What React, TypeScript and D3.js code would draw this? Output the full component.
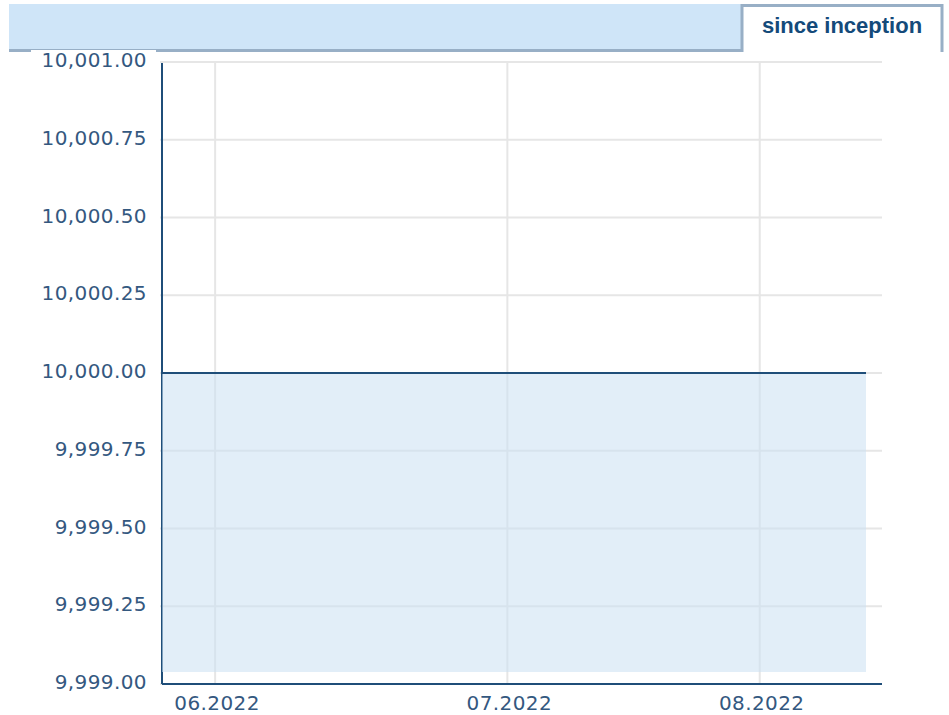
import { useRef, useEffect } from 'react';
import * as d3 from 'd3';

// trading days shown on the chart (MM-DD, 2022)
const dates: string[] = [
    '05-26', '05-27', '05-30', '05-31',
    '06-01', '06-02', '06-03', '06-06', '06-07', '06-08', '06-09', '06-10',
    '06-13', '06-14', '06-15', '06-16', '06-17', '06-20', '06-21', '06-22',
    '06-23', '06-24', '06-27', '06-28', '06-29', '06-30',
    '07-01', '07-05', '07-06', '07-07', '07-08', '07-11', '07-12', '07-13',
    '07-14', '07-15', '07-18', '07-19', '07-20', '07-21', '07-22', '07-25',
    '07-26', '07-27', '07-28',
    '08-01', '08-02', '08-03', '08-04', '08-05', '08-08', '08-09', '08-10',
    '08-11',
];

const values: number[] = [
    10000, 10000, 10000, 10000,
    10000, 10000, 10000, 10000, 10000, 10000, 10000, 10000,
    10000, 10000, 10000, 10000, 10000, 10000, 10000, 10000,
    10000, 10000, 10000, 10000, 10000, 10000,
    10000, 10000, 10000, 10000, 10000, 10000, 10000, 10000,
    10000, 10000, 10000, 10000, 10000, 10000, 10000, 10000,
    10000, 10000, 10000,
    10000, 10000, 10000, 10000, 10000, 10000, 10000, 10000,
    10000,
];

const monthTicks = ['06-01', '07-01', '08-01'];
const monthLabels = ['06.2022', '07.2022', '08.2022'];
const yTicks = [9999, 9999.25, 9999.5, 9999.75, 10000, 10000.25, 10000.5, 10000.75, 10001];
const tabLabel = 'since inception';

const W = 949;
const H = 715;
const PLOT_L = 162;
const PLOT_R = 882;
const LINE_R = 866;
const PLOT_T = 62;
const PLOT_B = 684;

const AXIS = '#1f4e79';
const LABEL = '#34587f';
const GRID = '#e6e6e6';

export default function App() {
    const svgRef = useRef<SVGSVGElement>(null);

    useEffect(() => {
        if (!svgRef.current) return;
        const svg = d3.select(svgRef.current);
        svg.selectAll('*').remove();

        // header band + tab
        svg.append('rect').attr('x', 9).attr('y', 4).attr('width', 733).attr('height', 46).attr('fill', '#cfe5f8');
        svg.append('rect').attr('x', 9).attr('y', 49).attr('width', 733).attr('height', 3).attr('fill', '#98afc6');
        svg.append('rect').attr('x', 31).attr('y', 50).attr('width', 125).attr('height', 3).attr('fill', '#fff');
        svg.append('path')
            .attr('d', 'M742,52 V5.5 H942 V52')
            .attr('fill', '#fff')
            .attr('stroke', '#98afc6')
            .attr('stroke-width', 3);
        svg.append('text')
            .attr('x', 842)
            .attr('y', 33)
            .attr('text-anchor', 'middle')
            .attr('font-family', '"Liberation Sans", Arial, sans-serif')
            .attr('font-weight', 700)
            .attr('font-size', '22px')
            .attr('fill', '#144a7a')
            .text(tabLabel);

        const x = d3.scalePoint<string>().domain(dates).range([PLOT_L, LINE_R]);
        const y = d3.scaleLinear().domain([9999, 10001]).range([PLOT_B, PLOT_T]);

        // grid
        svg.append('g')
            .selectAll('line')
            .data(yTicks)
            .join('line')
            .attr('x1', PLOT_L - 2)
            .attr('x2', PLOT_R)
            .attr('y1', d => y(d))
            .attr('y2', d => y(d))
            .attr('stroke', GRID)
            .attr('stroke-width', 2);
        svg.append('g')
            .selectAll('line')
            .data(monthTicks)
            .join('line')
            .attr('x1', d => x(d)!)
            .attr('x2', d => x(d)!)
            .attr('y1', PLOT_T)
            .attr('y2', PLOT_B)
            .attr('stroke', GRID)
            .attr('stroke-width', 2);

        // y axis line (drawn under the translucent area)
        svg.append('line')
            .attr('x1', PLOT_L).attr('x2', PLOT_L)
            .attr('y1', PLOT_T + 1).attr('y2', PLOT_B)
            .attr('stroke', AXIS)
            .attr('stroke-width', 2);

        // area
        const area = d3.area<number>()
            .x((_, i) => x(dates[i])!)
            .y0(y(9999) - 12)
            .y1(d => y(d));
        svg.append('path')
            .datum(values)
            .attr('d', area)
            .attr('fill', 'rgb(203,225,243)')
            .attr('fill-opacity', 0.56);

        const line = d3.line<number>()
            .x((_, i) => x(dates[i])!)
            .y(d => y(d));
        svg.append('path')
            .datum(values)
            .attr('d', line)
            .attr('fill', 'none')
            .attr('stroke', AXIS)
            .attr('stroke-width', 2);

        // x axis line
        svg.append('line')
            .attr('x1', PLOT_L).attr('x2', PLOT_R)
            .attr('y1', PLOT_B).attr('y2', PLOT_B)
            .attr('stroke', AXIS)
            .attr('stroke-width', 2);

        const fmt = d3.format(',.2f');
        svg.append('g')
            .selectAll('text')
            .data(yTicks)
            .join('text')
            .attr('x', 147)
            .attr('y', d => y(d) - 2)
            .attr('dy', '0.36em')
            .attr('text-anchor', 'end')
            .attr('font-family', '"DejaVu Sans", Verdana, sans-serif')
            .attr('font-size', '20px')
            .attr('letter-spacing', '0.4px')
            .attr('fill', LABEL)
            .text(d => fmt(d));

        svg.append('g')
            .selectAll('text')
            .data(monthTicks)
            .join('text')
            .attr('x', d => x(d)! + 2)
            .attr('y', 710)
            .attr('text-anchor', 'middle')
            .attr('font-family', '"DejaVu Sans", Verdana, sans-serif')
            .attr('font-size', '20px')
            .attr('letter-spacing', '0.4px')
            .attr('fill', LABEL)
            .text((_, i) => monthLabels[i]);
    }, []);

    return (
        <div style={{ position: 'absolute', left: 0, top: 0, width: W, height: H, background: '#fff' }}>
            <svg ref={svgRef} width={W} height={H} style={{ display: 'block' }} />
        </div>
    );
}
